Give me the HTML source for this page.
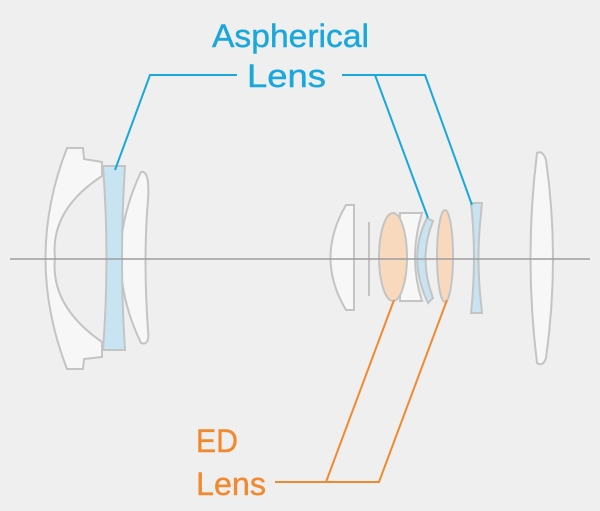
<!DOCTYPE html>
<html><head><style>
html,body{margin:0;padding:0;background:#efefef;}
svg{display:block}
text{font-family:"Liberation Sans",sans-serif;}
</style></head><body>
<svg width="600" height="511" viewBox="0 0 600 511">
<rect width="600" height="511" fill="#efefef"/>
<g fill="#f7f7f7" stroke="#c4c4c4" stroke-width="2">
<path d="M67,148 L83,148 L84,159 L102,162 L102,176 Q50,210 55,258 Q50,306 102,342 L102,357 L84,359 L83,369 L67,369 Q24,258 67,148 Z"/>
<path d="M141,172 Q150,170 148,200 Q143,258 148,330 Q150,346 141,343 Q100,258 141,172 Z"/>
<path d="M346,205 L354,205 L354,310 L346,310 Q315,258 346,205 Z"/>
<path d="M400,213 L422,213 Q408,258 422,301 L400,301 Z"/>
<path d="M537,153 Q543,150 546,160 Q560,258 546,358 Q543,367 537,363 Q524,258 537,153 Z"/>
</g>
<line x1="369" y1="222" x2="369" y2="296" stroke="#c4c4c4" stroke-width="2"/>
<g fill="#c8e4f2" stroke="#c4c4c4" stroke-width="2">
<path d="M103,166 L125,166 Q119,258 125,350 L103,350 Q110,258 103,166 Z"/>
<path d="M427,218 L433,221 Q418,258 433,298 L428,303 Q407,258 427,218 Z"/>
<path d="M471,203 L482,203 L481,214 Q476,258 481,303 L482,313 L471,313 Q477,258 471,203 Z"/>
</g>
<g fill="#f9d9bd" stroke="#c4c4c4" stroke-width="2">
<ellipse cx="393" cy="257" rx="14" ry="44"/>
<ellipse cx="445" cy="256" rx="8" ry="46"/>
</g>
<line x1="10" y1="259" x2="590" y2="259" stroke="#9e9e9e" stroke-width="1.5"/>
<g stroke="#1aa7dc" stroke-width="2" fill="none">
<polyline points="237,75 150,75 115,170"/>
<polyline points="342,75 425,75 472,205"/>
<line x1="375" y1="75" x2="428" y2="218"/>
</g>
<g stroke="#f08a30" stroke-width="2" fill="none">
<polyline points="275,482 379,482 447,300"/>
<line x1="326" y1="482" x2="394" y2="300"/>
</g>
<g fill="#1aa7dc" font-size="32" stroke="#1aa7dc" stroke-width="0.4">
<text x="212" y="47" textLength="157" lengthAdjust="spacingAndGlyphs">Aspherical</text>
<text x="247" y="87" textLength="79" lengthAdjust="spacingAndGlyphs">Lens</text>
</g>
<g fill="#f08a30" font-size="32" stroke="#f08a30" stroke-width="0.4">
<text x="196" y="452" textLength="42" lengthAdjust="spacingAndGlyphs">ED</text>
<text x="196" y="495" textLength="70" lengthAdjust="spacingAndGlyphs">Lens</text>
</g>
</svg>
</body></html>
